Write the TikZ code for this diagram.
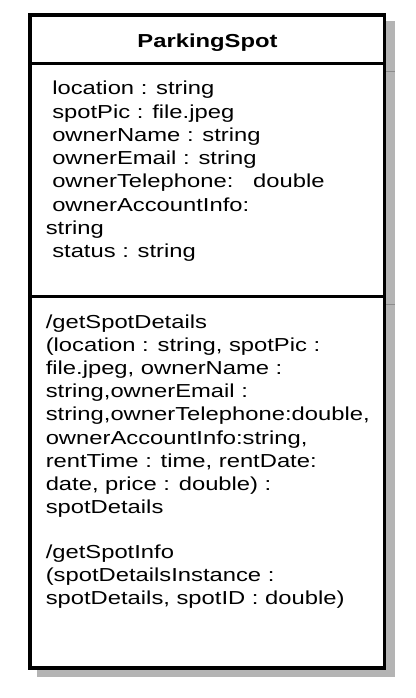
\documentclass[tikz,border=0pt]{standalone}
\usepackage{fontspec}
\setmainfont[FakeStretch=1.265]{Liberation Sans}
\definecolor{shadowgray}{RGB}{180,180,180}
\definecolor{shadowline}{RGB}{140,140,140}
\begin{document}
\begin{tikzpicture}[x=0.75pt,y=-0.75pt,
  txt/.style={anchor=base west, inner sep=0pt, font=\fontsize{14.1}{16}\selectfont},
  ttl/.style={anchor=base, inner sep=0pt, font=\fontsize{14.1}{16}\selectfont\bfseries},
  frame/.style={line width=2.3pt, draw=black}]
\useasboundingbox (0,0) rectangle (416,698);
% shadow
\fill[shadowgray] (36.5,21.5) rectangle (394.5,676.5);
\draw[shadowline, line width=1pt] (386,71.3) -- (394.5,71.3);
\draw[shadowline, line width=1pt] (386,304.7) -- (394.5,304.7);
% class box
\filldraw[frame, fill=white] (30,15) rectangle (384.7,668);
\draw[frame] (30,63.3) -- (384.7,63.3);
\draw[frame] (30,296.7) -- (384.7,296.7);
% title
\node[ttl] (title) at (207.5,47.7) {ParkingSpot};
% attributes
\node[txt] (a1) at (52,95) {location : string};
\node[txt] (a2) at (52,118.2) {spotPic : file.jpeg};
\node[txt] (a3) at (52,141.5) {ownerName : string};
\node[txt] (a4) at (52,164.7) {ownerEmail : string};
\node[txt] (a5) at (52,187.9) {ownerTelephone:\ \ \ double};
\node[txt] (a6) at (52,211.1) {ownerAccountInfo:};
\node[txt] (a7) at (45.5,234.3) {string};
\node[txt] (a8) at (52,257.5) {status : string};
% operations
\node[txt] (m1) at (45.5,328) {/getSpotDetails};
\node[txt] (m2) at (45.5,351.2) {(location : string, spotPic :};
\node[txt] (m3) at (45.5,374.4) {file.jpeg, ownerName :};
\node[txt] (m4) at (45.5,397.6) {string,ownerEmail :};
\node[txt] (m5) at (45.5,420.8) {string,ownerTelephone:double,};
\node[txt] (m6) at (45.5,444) {ownerAccountInfo:string,};
\node[txt] (m7) at (45.5,467.2) {rentTime : time, rentDate:};
\node[txt] (m8) at (45.5,490.4) {date, price : double) :};
\node[txt] (m9) at (45.5,513.6) {spotDetails};
\node[txt] (m10) at (45.5,558.5) {/getSpotInfo};
\node[txt] (m11) at (45.5,581.7) {(spotDetailsInstance :};
\node[txt] (m12) at (45.5,604.9) {spotDetails, spotID : double)};
\end{tikzpicture}
\end{document}
